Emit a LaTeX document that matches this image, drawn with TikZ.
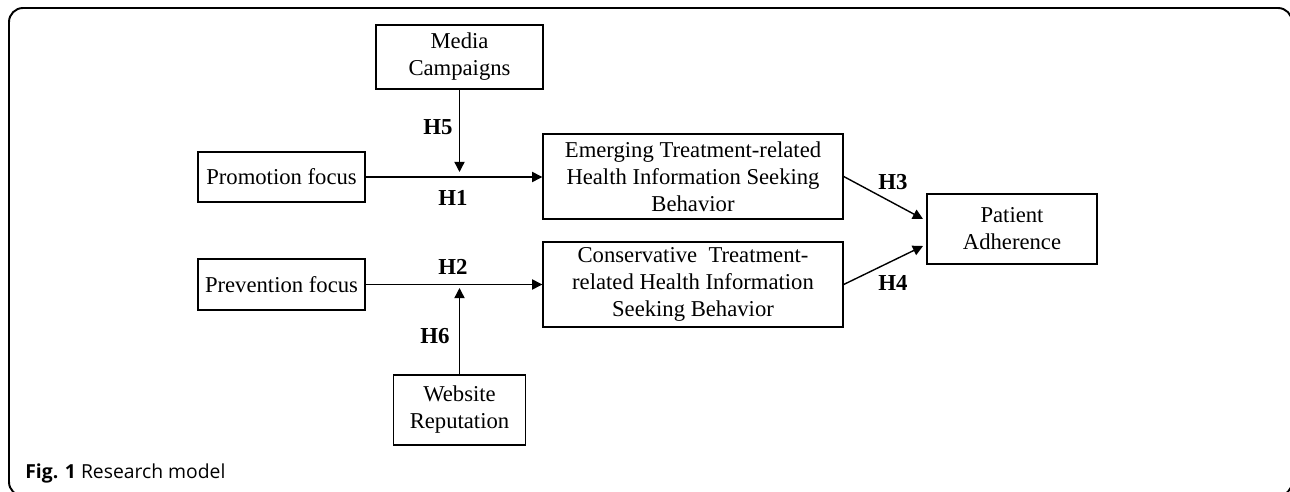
\documentclass[tikz,border=0pt]{standalone}
\usepackage{fontspec}
\setmainfont{Liberation Serif}
\newfontfamily\capfont{Open Sans}
\usetikzlibrary{arrows.meta}

\begin{document}
\begin{tikzpicture}[x=0.02cm,y=-0.02cm,
    box/.style={draw,line width=0.85pt,align=center,inner sep=0pt,
      font=\fontsize{12.9}{15.4}\selectfont},
    hyp/.style={font=\fontsize{13}{15}\selectfont\bfseries},
    link/.style={line width=0.8pt,-{Triangle[length=5.8pt,width=5.8pt]}}]
    \clip (0,0) rectangle (1290,492);
    % frame of the figure
    \draw[line width=1.1pt,rounded corners=8] (9,8) rectangle (1292,496);

    \node[box,minimum width=3.34cm,minimum height=1.28cm] (media) at (459.5,57) {Media\\Campaigns};
    \node[box,minimum width=3.34cm,minimum height=1.0cm] (promo) at (281.5,177) {Promotion focus};
    \node[box,minimum width=3.34cm,minimum height=1.02cm] (prev) at (281.5,284.5) {Prevention focus};
    \node[box,minimum width=6.0cm,minimum height=1.7cm] (emerg) at (693,176.5)
        {Emerging Treatment-related\\Health Information Seeking\\Behavior};
    \node[box,minimum width=6.0cm,minimum height=1.7cm] (cons) at (693,284.5)
        {Conservative~ Treatment-\\related Health Information\\Seeking Behavior};
    \node[box,minimum width=2.64cm,minimum height=1.4cm] (web) at (459.5,410) {Website\\Reputation};
    \node[box,minimum width=3.4cm,minimum height=1.4cm] (patient) at (1012,229) {Patient\\Adherence};

    \coordinate (j5) at (459.5,172);
    \coordinate (j6) at (459.5,288);
    \coordinate (p3) at (923,219);
    \coordinate (p4) at (923,246);

    \draw[link] (promo.east) -- (promo.east -| emerg.west);
    \draw[link] (prev.east) -- (prev.east -| cons.west);
    \draw[link] (media) -- (j5);
    \draw[link] (web) -- (j6);
    \draw[link] (emerg.east) -- (p3);
    \draw[link] (cons.east) -- (p4);

    \node[hyp] (h5) at (438,127) {H5};
    \node[hyp] (h1) at (453,198) {H1};
    \node[hyp] (h2) at (453,267) {H2};
    \node[hyp] (h6) at (435,336) {H6};
    \node[hyp] (h3) at (893,182) {H3};
    \node[hyp] (h4) at (893,283) {H4};

    \node[anchor=base west,inner sep=0pt,font=\capfont\fontsize{11}{13}\selectfont] (cap) at (25,479)
        {\textbf{Fig. 1} Research model};
\end{tikzpicture}
\end{document}
